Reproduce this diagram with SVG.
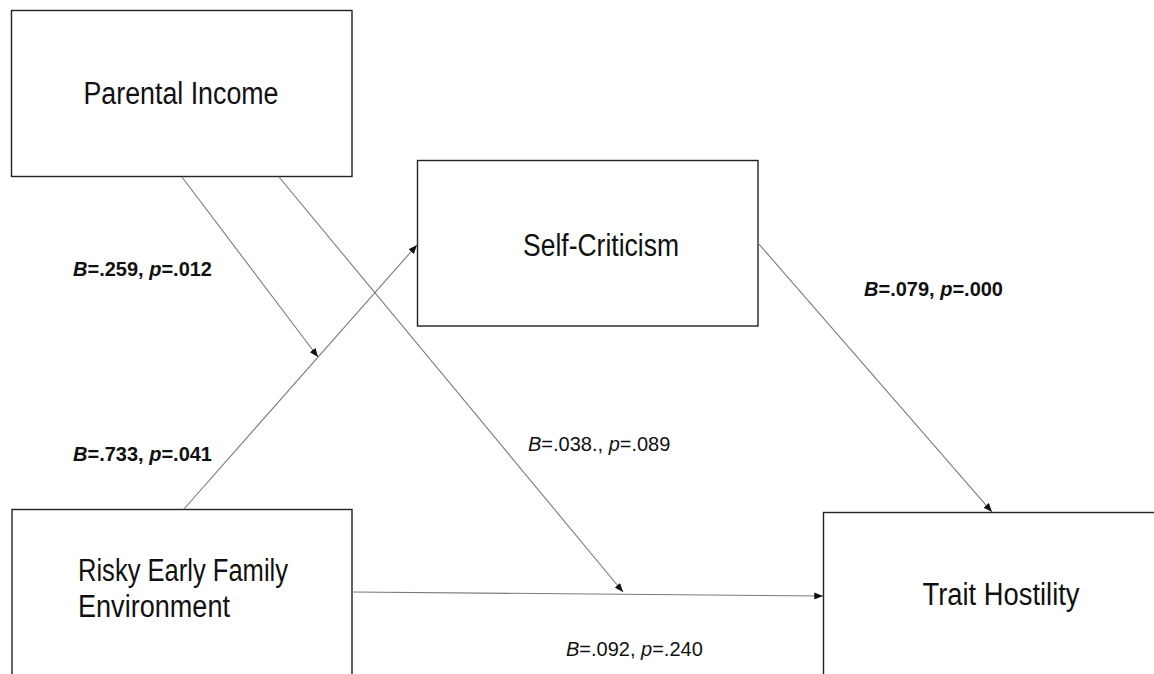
<svg xmlns="http://www.w3.org/2000/svg" width="1154" height="674" viewBox="0 0 1154 674">
<style>
.box{fill:#fff;stroke:#222;stroke-width:1.4}
.node{font-family:"Liberation Sans",Arial,sans-serif;font-size:31px;fill:#111}
.lbl{font-family:"Liberation Sans",Arial,sans-serif;font-size:20px;fill:#111}
.b{font-weight:bold}
.conn{stroke:#7a7a7a;stroke-width:1.1;fill:none;marker-end:url(#arr)}
</style>
<defs>
<marker id="arr" viewBox="0 0 10 8" refX="10" refY="4" markerWidth="9" markerHeight="7" markerUnits="userSpaceOnUse" orient="auto">
<path d="M0,0 L10,4 L0,8 Z" fill="#111"/>
</marker>
</defs>
<rect width="1154" height="674" fill="#fff"/>
<g id="node-parental-income">
<rect class="box" x="11.5" y="10.5" width="340.5" height="166"/>
<text class="node" x="181" y="104" text-anchor="middle" textLength="195" lengthAdjust="spacingAndGlyphs">Parental Income</text>
</g>
<g id="node-self-criticism">
<rect class="box" x="417.5" y="160.5" width="340.5" height="165.5"/>
<text class="node" x="601" y="256" text-anchor="middle" textLength="156" lengthAdjust="spacingAndGlyphs">Self-Criticism</text>
</g>
<g id="node-risky">
<rect class="box" x="12" y="509.5" width="340" height="180"/>
<text class="node" x="78" y="581" textLength="210" lengthAdjust="spacingAndGlyphs">Risky Early Family</text>
<text class="node" x="78" y="617" textLength="152" lengthAdjust="spacingAndGlyphs">Environment</text>
</g>
<g id="node-trait-hostility">
<rect class="box" x="823.5" y="512.5" width="345" height="180"/>
<text class="node" x="1001" y="605" text-anchor="middle" textLength="157" lengthAdjust="spacingAndGlyphs">Trait Hostility</text>
</g>
<g id="connectors">
<line class="conn" x1="182" y1="177" x2="318" y2="357"/>
<line class="conn" x1="279" y1="177" x2="623" y2="592"/>
<line class="conn" x1="184" y1="509" x2="417" y2="245"/>
<line class="conn" x1="352" y1="592" x2="823" y2="596"/>
<line class="conn" x1="758" y1="243" x2="992" y2="512"/>
</g>
<g id="labels">
<text class="lbl b" x="73" y="276"><tspan font-style="italic">B</tspan>=.259, <tspan font-style="italic">p</tspan>=.012</text>
<text class="lbl b" x="73" y="461"><tspan font-style="italic">B</tspan>=.733, <tspan font-style="italic">p</tspan>=.041</text>
<text class="lbl b" x="864" y="296"><tspan font-style="italic">B</tspan>=.079, <tspan font-style="italic">p</tspan>=.000</text>
<text class="lbl" x="528" y="451"><tspan font-style="italic">B</tspan>=.038., <tspan font-style="italic">p</tspan>=.089</text>
<text class="lbl" x="566" y="656"><tspan font-style="italic">B</tspan>=.092, <tspan font-style="italic">p</tspan>=.240</text>
</g>
</svg>
